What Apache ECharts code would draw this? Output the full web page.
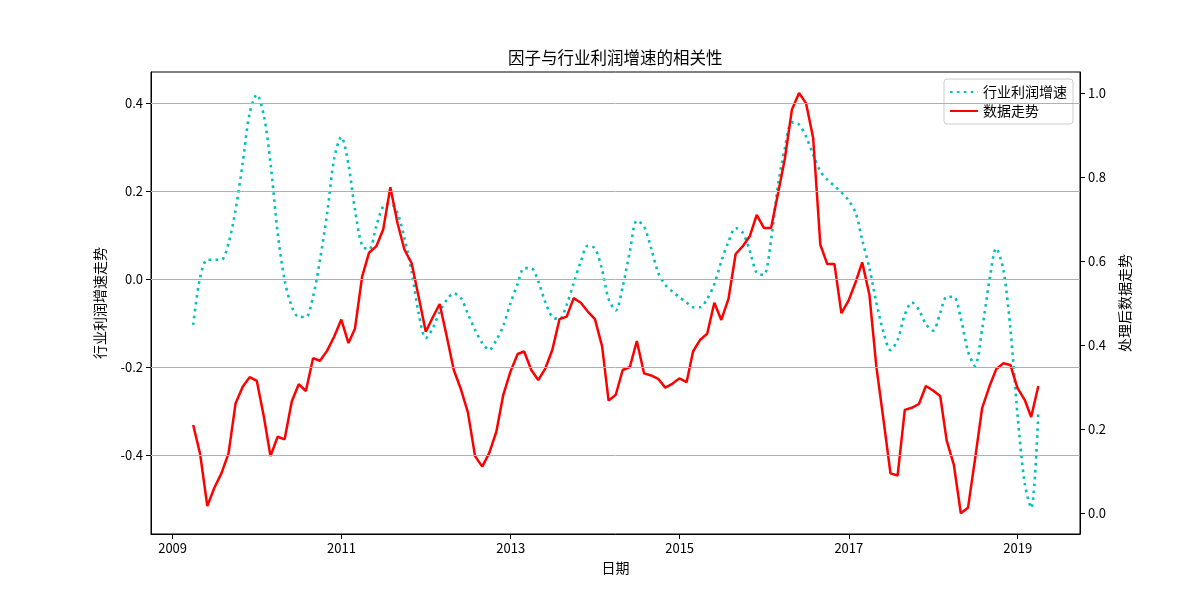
<!DOCTYPE html>
<html>
<head>
<meta charset="utf-8">
<script src="https://cdn.jsdelivr.net/npm/echarts@6/dist/echarts.min.js"></script>
<style>
html,body{margin:0;padding:0;background:#fff;}
#chart{width:1200px;height:600px;}
</style>
</head>
<body>
<div id="chart"></div>
<script>
// ---- data ----
var startYear = 2009, startMonth = 3; // first month-end: 2009-03-31, monthly to 2019-03-31
var profitGrowth = [ // 行业利润增速 (left axis)
 -0.104,0.004,0.044,0.044,0.044,0.082,0.157,0.264,0.377,0.419,
 0.370,0.264,0.105,-0.002,-0.062,-0.086,-0.086,-0.040,0.044,0.150,
 0.273,0.323,0.260,0.158,0.076,0.067,0.120,0.165,0.172,0.150,
 0.093,0.017,-0.077,-0.134,-0.111,-0.074,-0.047,-0.032,-0.043,-0.079,
 -0.115,-0.145,-0.161,-0.138,-0.106,-0.055,-0.011,0.025,0.025,-0.005,
 -0.053,-0.086,-0.091,-0.058,-0.009,0.040,0.076,0.070,0.021,-0.045,
 -0.071,-0.017,0.063,0.133,0.120,0.070,0.015,-0.013,-0.028,-0.041,
 -0.053,-0.064,-0.064,-0.045,-0.011,0.040,0.085,0.116,0.106,0.065,
 0.014,0.010,0.089,0.210,0.298,0.356,0.351,0.324,0.283,0.245,
 0.226,0.212,0.197,0.179,0.150,0.089,0.025,-0.053,-0.121,-0.161,
 -0.138,-0.081,-0.053,-0.070,-0.102,-0.117,-0.077,-0.040,-0.040,-0.089,
 -0.164,-0.197,-0.114,-0.005,0.070,0.021,-0.111,-0.308,-0.464,-0.520,
 -0.301
];
var processedData = [ // 数据走势 (right axis)
 0.210,0.141,0.017,0.060,0.095,0.143,0.261,0.301,0.324,0.315,
 0.228,0.136,0.182,0.176,0.266,0.307,0.291,0.369,0.363,0.387,
 0.420,0.461,0.405,0.439,0.563,0.620,0.635,0.675,0.776,0.690,
 0.627,0.595,0.516,0.432,0.467,0.498,0.420,0.341,0.295,0.240,
 0.136,0.111,0.143,0.194,0.282,0.337,0.379,0.385,0.341,0.317,
 0.345,0.389,0.462,0.468,0.512,0.501,0.480,0.462,0.397,0.268,
 0.282,0.341,0.348,0.410,0.333,0.328,0.320,0.299,0.308,0.321,
 0.312,0.385,0.413,0.427,0.501,0.460,0.510,0.617,0.635,0.659,
 0.710,0.679,0.679,0.758,0.845,0.960,1.000,0.976,0.893,0.639,
 0.593,0.593,0.476,0.506,0.551,0.597,0.520,0.349,0.222,0.095,
 0.090,0.246,0.251,0.260,0.303,0.292,0.279,0.173,0.115,0.000,
 0.013,0.127,0.250,0.301,0.343,0.357,0.353,0.298,0.270,0.229,
 0.303
];
var xTickYears = [2009, 2011, 2013, 2015, 2017, 2019];
var leftTicks = [-0.4, -0.2, 0.0, 0.2, 0.4];
var rightTicks = [0.0, 0.2, 0.4, 0.6, 0.8, 1.0];

// ---- build ----
function monthEnd(i) {
  var m = startMonth - 1 + i;
  var y = startYear + Math.floor(m / 12);
  var mm = m % 12;
  return Date.UTC(y, mm + 1, 0);
}
var dates = profitGrowth.map(function (_, i) { return monthEnd(i); });
var s1 = profitGrowth.map(function (v, i) { return [dates[i], v]; });
var s2 = processedData.map(function (v, i) { return [dates[i], v]; });
var DAY = 86400000;
var t2009 = Date.UTC(2009, 0, 1);
var xMin = t2009 - 93.3 * DAY;
var xMax = t2009 + 3921 * DAY;
var xTicks = xTickYears.map(function (y) { return Date.UTC(y, 0, 1); });

var FONT = '"Noto Sans CJK SC", "DejaVu Sans", sans-serif';
var chart = echarts.init(document.getElementById('chart'), null, {renderer: 'canvas'});
chart.setOption({
  animation: false,
  backgroundColor: '#fff',
  textStyle: {fontFamily: FONT, color: '#000'},
  title: {
    text: '因子与行业利润增速的相关性',
    left: 503, top: 44,
    textStyle: {fontFamily: FONT, fontSize: 16.5, fontWeight: 'normal', color: '#000'}
  },
  legend: {
    orient: 'vertical',
    right: 127, top: 79,
    backgroundColor: '#fff',
    borderColor: '#cccccc', borderWidth: 1, borderRadius: 3,
    padding: [6, 6, 6, 5],
    itemGap: 5,
    itemWidth: 28, itemHeight: 14,
    itemStyle: {opacity: 0},
    textStyle: {fontFamily: FONT, fontSize: 14, color: '#000'},
    data: ['行业利润增速', '数据走势']
  },
  grid: {
    left: 151, right: 120, top: 72, bottom: 66,
    show: true, borderColor: '#000', borderWidth: 1, backgroundColor: 'transparent'
  },
  xAxis: {
    type: 'value',
    min: xMin, max: xMax,
    name: '日期', nameLocation: 'middle', nameGap: 27,
    nameTextStyle: {fontFamily: FONT, fontSize: 14, color: '#000'},
    axisLine: {show: true, onZero: false, lineStyle: {color: '#000'}},
    axisTick: {show: true, length: 5, lineStyle: {color: '#000'}, customValues: xTicks},
    axisLabel: {
      fontFamily: FONT, fontSize: 13, color: '#000', margin: 8,
      customValues: xTicks,
      formatter: function (v) { return String(new Date(v).getUTCFullYear()); }
    },
    splitLine: {show: false}
  },
  yAxis: [{
    type: 'value',
    min: -0.5789, max: 0.4705,
    name: '行业利润增速走势', nameLocation: 'middle', nameRotate: 90, nameGap: 44,
    nameTextStyle: {fontFamily: FONT, fontSize: 14, color: '#000'},
    axisLine: {show: true, onZero: false, lineStyle: {color: '#000'}},
    axisTick: {show: true, length: 5, lineStyle: {color: '#000'}, customValues: leftTicks},
    axisLabel: {
      fontFamily: FONT, fontSize: 13, color: '#000', margin: 8,
      customValues: leftTicks,
      formatter: function (v) { return v.toFixed(1); }
    },
    splitLine: {show: false}
  }, {
    type: 'value',
    position: 'right',
    min: -0.0493, max: 1.05,
    name: '处理后数据走势', nameLocation: 'middle', nameRotate: 90, nameGap: 38,
    nameTextStyle: {fontFamily: FONT, fontSize: 14, color: '#000'},
    axisLine: {show: true, onZero: false, lineStyle: {color: '#000'}},
    axisTick: {show: true, length: 5, lineStyle: {color: '#000'}, customValues: rightTicks},
    axisLabel: {
      fontFamily: FONT, fontSize: 13, color: '#000', margin: 8,
      customValues: rightTicks,
      formatter: function (v) { return v.toFixed(1); }
    },
    splitLine: {show: false}
  }],
  series: [{
    name: '行业利润增速',
    type: 'line',
    yAxisIndex: 0,
    data: s1,
    showSymbol: false, symbol: 'none',
    smooth: 0.3,
    lineStyle: {color: '#00bfbf', width: 2.6, type: [2.6, 4.3], cap: 'butt'},
    itemStyle: {color: '#00bfbf'},
    markLine: {
      silent: true, symbol: 'none', label: {show: false},
      lineStyle: {color: '#b0b0b0', width: 1, type: 'solid'},
      data: leftTicks.map(function (t) { return {yAxis: t}; })
    },
    z: 3
  }, {
    name: '数据走势',
    type: 'line',
    yAxisIndex: 1,
    data: s2,
    showSymbol: false, symbol: 'none',
    lineStyle: {color: '#ff0000', width: 2.5},
    itemStyle: {color: '#ff0000'},
    z: 4
  }]
});
</script>
</body>
</html>
